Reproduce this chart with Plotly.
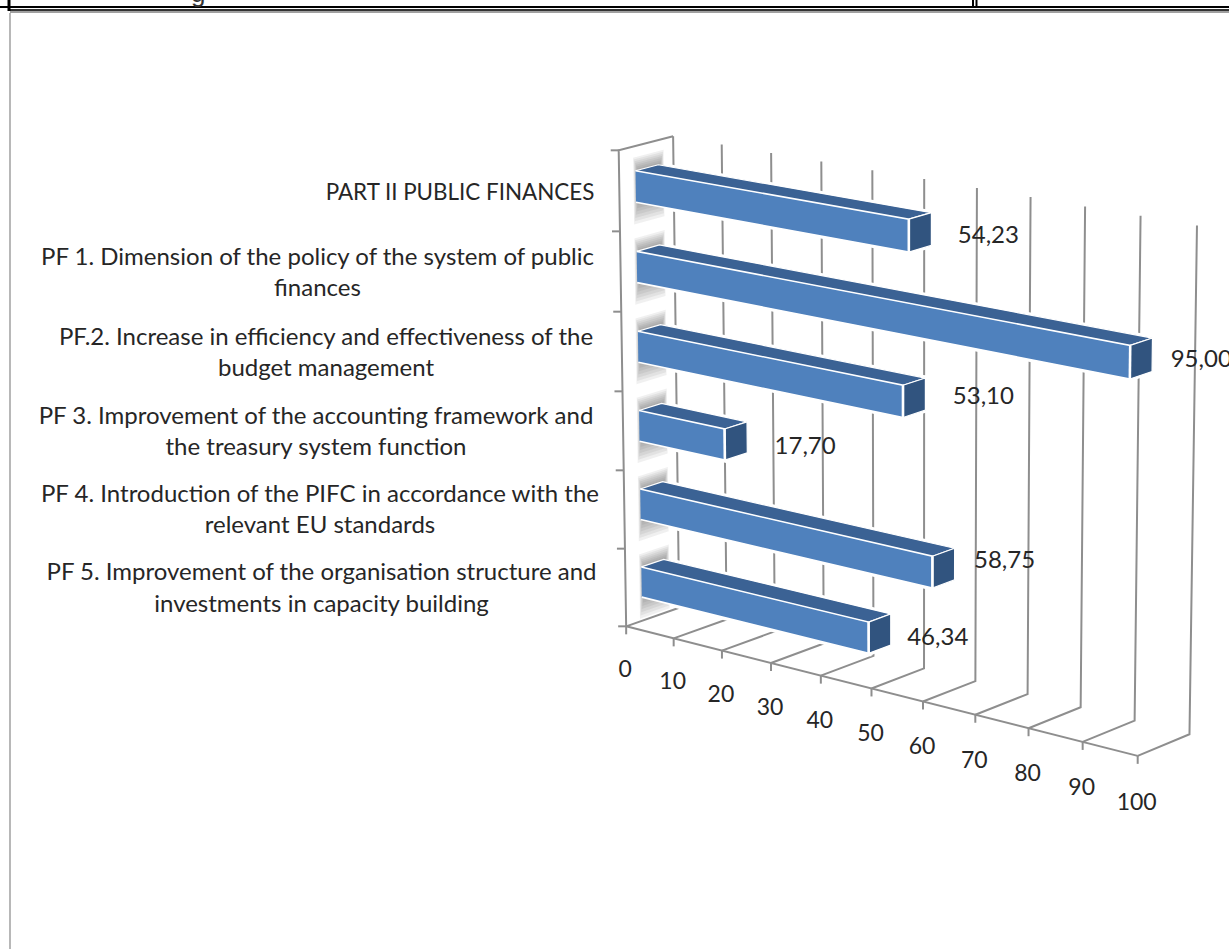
import numpy as np
import plotly.graph_objects as go

# Chart data
categories = [
    ["PART II PUBLIC FINANCES"],
    ["PF 1. Dimension of the policy of the system of public", "finances"],
    ["PF.2. Increase in efficiency and effectiveness of the", "budget management"],
    ["PF 3. Improvement of the accounting framework and", "the treasury system function"],
    ["PF 4. Introduction of the PIFC in accordance with the", "relevant EU standards"],
    ["PF 5. Improvement of the organisation structure and", "investments in capacity building"],
]
values = [54.23, 95.00, 53.10, 17.70, 58.75, 46.34]
value_labels = ["54,23", "95,00", "53,10", "17,70", "58,75", "46,34"]
value_ticks = [0, 10, 20, 30, 40, 50, 60, 70, 80, 90, 100]

# Page-pixel anchors of the box: (value, depth, height) -> (x, y)
box_anchors = [
    ((0, 0, 0), (627, 626)), ((50, 0, 0), (872, 689)), ((100, 0, 0), (1137, 756)),
    ((0, 1, 0), (678, 608)), ((50, 1, 0), (924, 668)), ((100, 1, 0), (1190, 734)),
    ((0, 0, 1), (618, 150)), ((0, 1, 1), (674, 137)),
    ((50, 1, 1), (924, 178)), ((100, 1, 1), (1197, 226)),
]

BLUE = "#4F81BD"
TOP_BLUE = "#3B6294"
SIDE_BLUE = "#31547F"
GRID = "#8E8E8E"
TEXT = "#262626"
FONT = "Lato"
FONT_SIZE = 24
TITLE_FONT_SIZE = 22.4
TICK_FONT_SIZE = 23

BAR_FRONT, BAR_BACK = 0.30, 0.72
BAR_HALF = 0.0325


def fit_projection(anchors):
    rows, rhs = [], []
    for (v, d, h), (px, py) in anchors:
        rows.append([v, d, h, 1, 0, 0, 0, 0, -px * v, -px * d, -px * h])
        rhs.append(px)
        rows.append([0, 0, 0, 0, v, d, h, 1, -py * v, -py * d, -py * h])
        rhs.append(py)
    return np.linalg.lstsq(np.array(rows, float), np.array(rhs, float), rcond=None)[0]


P = fit_projection(box_anchors)


def project(v, d, h):
    w = P[8] * v + P[9] * d + P[10] * h + 1
    return ((P[0] * v + P[1] * d + P[2] * h + P[3]) / w,
            (P[4] * v + P[5] * d + P[6] * h + P[7]) / w)


fig = go.Figure()


def polyline(points, color=GRID, width=2):
    xy = [project(*p) for p in points]
    fig.add_trace(go.Scatter(x=[a for a, _ in xy], y=[b for _, b in xy], mode="lines",
                             line=dict(color=color, width=width), hoverinfo="skip"))


def face(points, fill, edge="white", width=1.2):
    xy = [project(*p) for p in points]
    fig.add_trace(go.Scatter(x=[a for a, _ in xy], y=[b for _, b in xy], mode="lines",
                             fill="toself", fillcolor=fill,
                             line=dict(color=edge, width=width), hoverinfo="skip"))


def pixel_line(x0, y0, x1, y1, color, width):
    fig.add_shape(type="line", x0=x0, y0=y0, x1=x1, y1=y1, line=dict(color=color, width=width))


# Gridlines on the back wall and floor
for v in value_ticks:
    polyline([(v, 0, 0), (v, 1, 0), (v, 1, 1)])
# Left wall outline
polyline([(0, 0, 0), (0, 0, 1), (0, 1, 1)])
# Front floor edge
polyline([(0, 0, 0), (100, 0, 0)])

# Tick marks on the two axes
for v in value_ticks:
    x, y = project(v, 0, 0)
    fig.add_trace(go.Scatter(x=[x, x], y=[y, y + 8], mode="lines",
                             line=dict(color=GRID, width=2), hoverinfo="skip"))
for i in range(len(categories) + 1):
    x, y = project(0, 0, i / len(categories))
    fig.add_trace(go.Scatter(x=[x - 8, x], y=[y, y], mode="lines",
                             line=dict(color=GRID, width=2), hoverinfo="skip"))

n = len(categories)


def bar_faces(val, c):
    lo, hi = c - BAR_HALF, c + BAR_HALF
    top = [(0, BAR_FRONT, hi), (0, BAR_BACK, hi), (val, BAR_BACK, hi), (val, BAR_FRONT, hi)]
    side = [(val, BAR_FRONT, lo), (val, BAR_BACK, lo), (val, BAR_BACK, hi), (val, BAR_FRONT, hi)]
    front = [(0, BAR_FRONT, lo), (val, BAR_FRONT, lo), (val, BAR_FRONT, hi), (0, BAR_FRONT, hi)]
    return top, side, front


# White halo that separates the bars from the gridlines
for i, val in enumerate(values):
    for part in bar_faces(val, (n - i - 0.5) / n):
        polyline(part + part[:1], color="white", width=5)

# Soft shadows cast by the bars on the left wall
for i in range(n):
    c = (n - i - 0.5) / n
    for k in range(8):
        grow = (7 - k) * 0.004
        near = 0.26 + k * 0.012
        far = 0.82 - k * 0.01
        lower = c - BAR_HALF - grow * 1.6
        upper = c + BAR_HALF + grow
        face([(0, near, lower), (0, far, lower), (0, far, upper), (0, near, upper)],
             "rgba(90,90,90,0.09)", edge="rgba(0,0,0,0)", width=0)

# Bars
for i, val in enumerate(values):
    top, side, front = bar_faces(val, (n - i - 0.5) / n)
    face(top, TOP_BLUE)
    face(side, SIDE_BLUE)
    face(front, BLUE, width=1.6)
    polyline(front[1:3], color="white", width=2.6)


def text_points(xs, ys, labels, size=FONT_SIZE):
    fig.add_trace(go.Scatter(x=xs, y=ys, text=labels, mode="text", textposition="middle center",
                             textfont=dict(family=FONT, size=size, color=TEXT),
                             cliponaxis=False, hoverinfo="skip"))


# Value-axis tick labels
tick_xy = [project(v, 0, 0) for v in value_ticks]
text_points([x - 1 for x, _ in tick_xy],
            [y + 45 + 0.03 * v for (_, y), v in zip(tick_xy, value_ticks)],
            [str(v) for v in value_ticks], size=TICK_FONT_SIZE)

# Data labels placed from the projected end of each bar
label_nudge = [(57, 7.5), (49, 6.5), (58, 3.5), (58, 10.5), (50, -2.5), (47, 9.5)]
lx, ly = [], []
for i, val in enumerate(values):
    x, y = project(val, BAR_BACK, (n - i - 0.5) / n)
    lx.append(x + label_nudge[i][0])
    ly.append(y + label_nudge[i][1])
text_points(lx, ly, value_labels)

# Category labels, centred line by line inside a right-aligned block
label_centres = [460, 317.5, 326, 316, 320, 321.5]
line_rows = [[194], [259, 290], [339, 370], [418, 449], [496, 527], [574, 606]]
text_points(label_centres[:1], line_rows[0], categories[0], size=TITLE_FONT_SIZE)
cx, cy, ct = [], [], []
for lines, centre, rows in zip(categories[1:], label_centres[1:], line_rows[1:]):
    for line, row in zip(lines, rows):
        cx.append(centre)
        cy.append(row)
        ct.append(line)
text_points(cx, cy, ct)

# Table rules along the top of the page and the frame on the left
pixel_line(0, 7, 1229, 7, "#000000", 2)
pixel_line(10, 10, 1229, 10, "#333333", 2)
pixel_line(10, 12, 1229, 12, "#A0A0A0", 2)
pixel_line(9, 0, 9, 11, "#000000", 3)
pixel_line(973, 0, 973, 7, "#000000", 2)
pixel_line(976.5, 0, 976.5, 7, "#000000", 2)
pixel_line(10, 13, 10, 949, "#A6A6A6", 1.6)

# Tail of the heading text cut off by the top of the page
fig.add_annotation(x=198, y=0, text="g", showarrow=False, yanchor="middle", yshift=7,
                   font=dict(family="Liberation Sans", size=26, color="#333333"))

fig.update_layout(
    width=1229, height=949, autosize=False, showlegend=False,
    margin=dict(l=0, r=0, t=0, b=0),
    paper_bgcolor="white", plot_bgcolor="white",
    xaxis=dict(range=[0, 1229], visible=False, fixedrange=True),
    yaxis=dict(range=[949, 0], visible=False, fixedrange=True),
)

fig.write_html("out.html", config=dict(displayModeBar=False))
